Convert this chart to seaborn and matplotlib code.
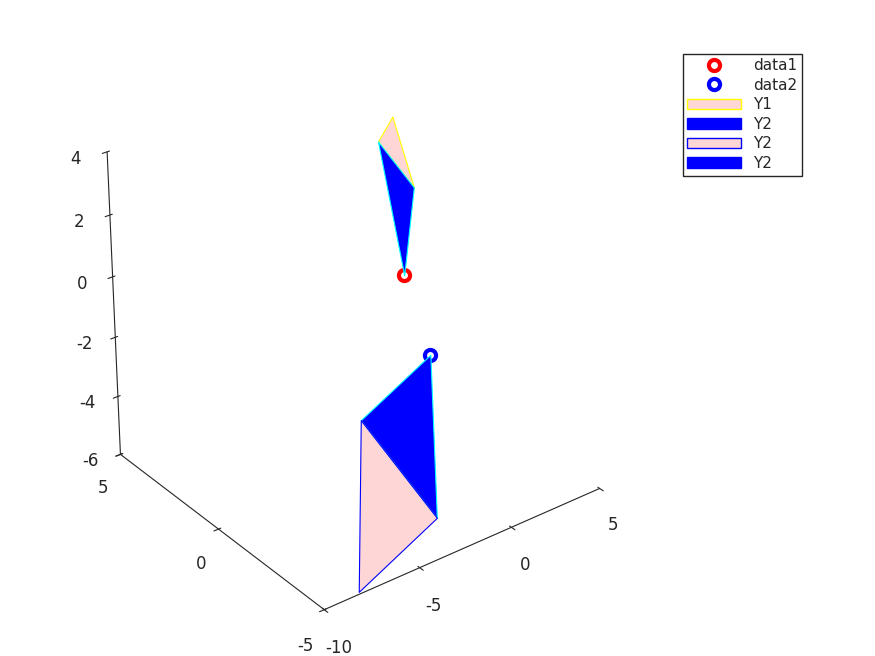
import numpy as np
import matplotlib
matplotlib.use("Agg")
import matplotlib.pyplot as plt
import seaborn as sns
from mpl_toolkits.mplot3d.art3d import Poly3DCollection
from matplotlib.patches import Patch
from matplotlib.lines import Line2D

sns.set_style("white")
plt.rcParams['font.family'] = ['DejaVu Sans']
plt.rcParams['axes.unicode_minus'] = False

# points
data1 = [0.0, 0.0, 0.0]
data2 = [1.5, 0.0, -3.0]

# upper shape vertices
up_top = [0.6, 1.1, 4.5]
up_left = [-0.4, 0.9, 4.0]
up_right = [0.0, -0.4, 3.0]

# lower shape vertices
lo_left = [-3.5, -1.0, -3.5]
lo_bottom = [-8.1, -4.9, -6.0]
lo_right = [-3.5, -4.5, -5.0]

pink = '#ffd6d6'
fig = plt.figure(figsize=(8.75, 6.56), dpi=100)
ax = fig.add_subplot(111, projection='3d')
ax.set_position([0.015, 0.045, 0.77, 0.9])

polys = [
    ([up_top, up_left, up_right], pink, 'yellow'),
    ([up_left, up_right, data1], 'blue', 'cyan'),
    ([lo_left, lo_bottom, lo_right], pink, 'blue'),
    ([lo_left, data2, lo_right], 'blue', 'cyan'),
]
for verts, fc, ec in polys:
    pc = Poly3DCollection([verts], facecolors=fc, edgecolors=ec, linewidths=0.8)
    ax.add_collection3d(pc)

ax.plot([data1[0]], [data1[1]], [data1[2]], 'o', mfc='none', mec='red', mew=3, ms=8)
ax.plot([data2[0]], [data2[1]], [data2[2]], 'o', mfc='none', mec='blue', mew=3, ms=8)

ax.set_xlim(-10, 5)
ax.set_ylim(-5, 5)
ax.set_zlim(-6, 4)
ax.set_xticks([-10, -5, 0, 5])
ax.set_yticks([-5, 0, 5])
ax.set_zticks([-6, -4, -2, 0, 2, 4])
ax.set_box_aspect((1, 1, 1))
ax.view_init(elev=30, azim=-127.5)
ax.grid(False)
for a in (ax.xaxis, ax.yaxis, ax.zaxis):
    a.set_pane_color((1, 1, 1, 0))
    a.line.set_color('#262626')
    a.set_tick_params(labelsize=12, colors='#262626', pad=6)

handles = [
    Line2D([], [], marker='o', ls='none', mfc='none', mec='red', mew=3, ms=8, label='data1'),
    Line2D([], [], marker='o', ls='none', mfc='none', mec='blue', mew=3, ms=8, label='data2'),
    Patch(facecolor=pink, edgecolor='yellow', label='Y1'),
    Patch(facecolor='blue', edgecolor='blue', label='Y2'),
    Patch(facecolor=pink, edgecolor='blue', label='Y2'),
    Patch(facecolor='blue', edgecolor='blue', label='Y2'),
]
fig.legend(handles=handles, loc='upper right', bbox_to_anchor=(0.925, 0.93),
           fancybox=False, edgecolor='#262626', fontsize=11, handlelength=3.5,
           framealpha=1, borderpad=0.3, labelspacing=0.3)
fig.savefig('out.png', dpi=100)
